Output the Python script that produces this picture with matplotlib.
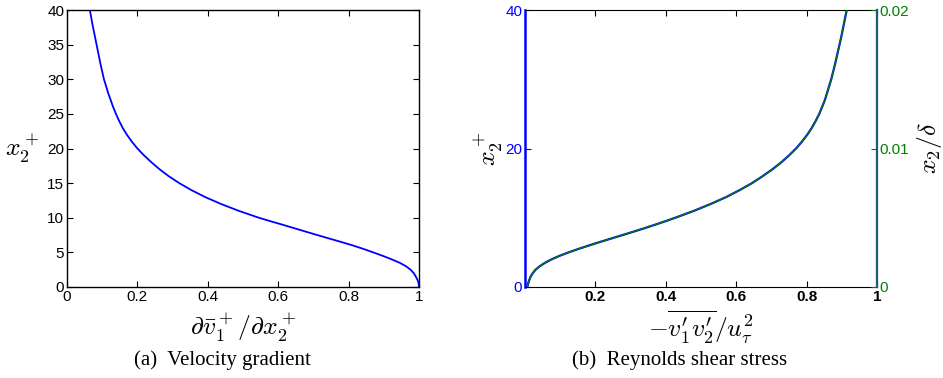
import matplotlib
matplotlib.use("Agg")
import matplotlib.pyplot as plt

plt.rcParams['mathtext.fontset'] = 'cm'
plt.rcParams['font.family'] = ['Liberation Sans', 'DejaVu Sans']

# (a) velocity gradient profile
grad_y = [0, 0.25, 0.5, 1, 1.5, 2, 2.5, 3, 3.5, 4, 4.5, 5, 5.5, 6, 6.5, 7, 7.5, 8, 8.5, 9, 9.5,
          10, 11, 12, 13, 14, 15, 16, 17, 18, 19, 20, 21, 22, 23, 24, 25, 26, 27, 28, 29, 30,
          32, 34, 36, 38, 40]
grad_x = [1.0, 0.9997, 0.999, 0.996, 0.991, 0.985, 0.976, 0.963, 0.945, 0.922, 0.897, 0.87,
          0.842, 0.812, 0.779, 0.745, 0.711, 0.678, 0.645, 0.612, 0.578, 0.545, 0.488, 0.437,
          0.392, 0.353, 0.319, 0.289, 0.263, 0.240, 0.219, 0.200, 0.184, 0.170, 0.158, 0.148,
          0.139, 0.131, 0.124, 0.117, 0.111, 0.105, 0.096, 0.088, 0.080, 0.072, 0.065]

# (b) Reynolds shear stress profile
rs_y = [0, 0.25, 0.5, 1, 1.5, 2, 2.5, 3, 3.5, 4, 4.5, 5, 5.5, 6, 6.5, 7, 7.5, 8, 8.5, 9, 9.5,
        10, 11, 12, 13, 14, 15, 16, 17, 18, 19, 20, 21, 22, 23, 24, 25, 26, 27, 28, 30, 32,
        34, 36, 38, 40]
rs_x = [0.007, 0.0075, 0.009, 0.012, 0.016, 0.022, 0.030, 0.042, 0.057, 0.076, 0.098, 0.124,
        0.152, 0.182, 0.213, 0.245, 0.277, 0.309, 0.34, 0.37, 0.399, 0.427, 0.48, 0.528,
        0.572, 0.61, 0.645, 0.675, 0.703, 0.728, 0.75, 0.77, 0.787, 0.802, 0.815, 0.826,
        0.836, 0.844, 0.852, 0.858, 0.87, 0.88, 0.889, 0.898, 0.906, 0.914]
re_tau = 2000.0
rs_delta = [v / re_tau for v in rs_y]

left_ticks_a = [0, 5, 10, 15, 20, 25, 30, 35, 40]
bottom_ticks_a = [0, 0.2, 0.4, 0.6, 0.8, 1]
bottom_ticks_b = [0.2, 0.4, 0.6, 0.8, 1]
left_ticks_b = [0, 20, 40]
right_ticks_b = [0, 0.01, 0.02]

BLUE = '#0000ff'
GREEN = '#008000'
tick_fs = 11
lab_fs = 18.5

fig = plt.figure(figsize=(9.43, 3.78), dpi=100)
W, H = 943.0, 378.0

def rect(x0, x1, y0, y1):
    return [x0 / W, 1 - y1 / H, (x1 - x0) / W, (y1 - y0) / H]

# ---------- (a)
ax1 = fig.add_axes(rect(67, 419, 10, 287))
ax1.plot(grad_x, grad_y, color=BLUE, lw=1.3)
ax1.set_xlim(0, 1)
ax1.set_ylim(0, 40)
ax1.set_xticks(bottom_ticks_a)
ax1.set_xticklabels(['0', '0.2', '0.4', '0.6', '0.8', '1'])
ax1.set_yticks(left_ticks_a)
ax1.tick_params(direction='in', top=True, right=True, length=4, width=0.8,
                labelsize=tick_fs, pad=2)
for s in ax1.spines.values():
    s.set_linewidth(1.0)
ax1.set_xlabel(r'$\partial\bar{v}_1^+/\partial x_2^+$', fontsize=lab_fs, labelpad=5)
ax1.set_ylabel(r'$x_2^+$', fontsize=lab_fs, rotation=0, labelpad=2, va='center')
ax1.yaxis.set_label_coords(-0.128, 0.5)

# ---------- (b)
ax2 = fig.add_axes(rect(525, 877, 10, 287))
ax2.plot(rs_x, rs_y, color=BLUE, lw=1.6)
ax2.set_xlim(0, 1)
ax2.set_ylim(0, 40)
ax2.set_xticks(bottom_ticks_b)
ax2.set_xticklabels(['0.2', '0.4', '0.6', '0.8', '1'], fontweight='bold')
ax2.set_yticks(left_ticks_b)
ax2.tick_params(axis='x', direction='in', top=True, length=4, width=0.8,
                labelsize=tick_fs, pad=2)
ax2.tick_params(axis='y', direction='in', length=4, width=0.8, colors=BLUE,
                labelsize=tick_fs, pad=2)
ax2.spines['left'].set_color(BLUE)
ax2.spines['left'].set_linewidth(1.8)
ax2.spines['right'].set_visible(False)
ax2.set_xlabel(r'$-\overline{v_1^\prime v_2^\prime}/u_\tau^2$', fontsize=lab_fs, labelpad=3)
ax2.set_ylabel(r'$x_2^+$', fontsize=lab_fs, labelpad=0)

ax3 = ax2.twinx()
ax3.plot(rs_x, rs_delta, color=GREEN, lw=0.9)
ax3.set_ylim(0, 0.02)
ax3.set_yticks(right_ticks_b)
ax3.set_yticklabels(['0', '0.01', '0.02'])
ax3.tick_params(axis='y', direction='in', length=4, width=0.8, colors=GREEN,
                labelsize=tick_fs, pad=2)
ax3.spines['right'].set_color('#1a5a7a')
ax3.spines['right'].set_linewidth(1.6)
ax3.spines['left'].set_visible(False)
ax3.spines['top'].set_visible(False)
ax3.spines['bottom'].set_visible(False)
ax3.set_ylabel(r'$x_2/\delta$', fontsize=lab_fs, labelpad=4)

fig.text(222 / W, 1 - 360 / H, '(a)  Velocity gradient', family='Liberation Serif',
         fontsize=15, ha='center', va='center')
fig.text(680 / W, 1 - 360 / H, '(b)  Reynolds shear stress', family='Liberation Serif',
         fontsize=15, ha='center', va='center')

fig.savefig('out.png', dpi=100)
